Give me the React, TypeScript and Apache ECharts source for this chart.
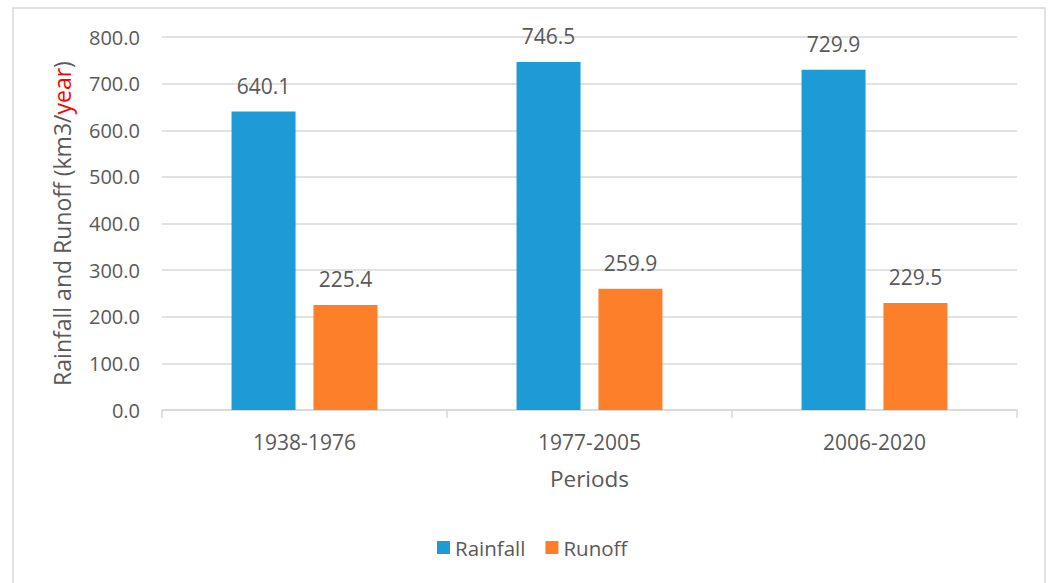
import React, { useEffect, useRef } from "react";
import * as echarts from "echarts";

const periods = ["1938-1976", "1977-2005", "2006-2020"];
const rainfall = [640.1, 746.5, 729.9];
const runoff = [225.4, 259.9, 229.5];
const yTicks = { min: 0, max: 800, interval: 100 };

const FONT = "'Open Sans', sans-serif";
const GREY = "#595959";

export default function App() {
  const ref = useRef<HTMLDivElement>(null);
  useEffect(() => {
    if (!ref.current) return;
    const chart = echarts.init(ref.current, undefined, { renderer: "svg" });
    const label = {
      show: true,
      position: "top",
      distance: 15,
      color: GREY,
      fontSize: 21,
      fontFamily: FONT,
      formatter: (p: any) => Number(p.value).toFixed(1),
    };
    chart.setOption({
      animation: false,
      backgroundColor: "#ffffff",
      textStyle: { fontFamily: FONT },
      graphic: [
        {
          type: "rect",
          shape: { x: 13, y: 8, width: 1032, height: 600 },
          style: { fill: "none", stroke: "#d9d9d9", lineWidth: 1.5 },
          silent: true,
        },
      ],
      grid: { left: 162, right: 34, top: 37, bottom: 173, containLabel: false },
      legend: {
        bottom: 20,
        left: 432,
        itemWidth: 13,
        itemHeight: 13,
        itemGap: 20,
        icon: "rect",
        textStyle: { color: GREY, fontSize: 20.5, fontFamily: FONT },
        data: ["Rainfall", "Runoff"],
      },
      xAxis: {
        type: "category",
        data: periods,
        name: "Periods",
        nameLocation: "middle",
        nameGap: 57,
        nameTextStyle: { color: GREY, fontSize: 22.5, fontFamily: FONT },
        axisLine: { lineStyle: { color: "#d9d9d9", width: 1.5 } },
        axisTick: { show: true, alignWithLabel: false, length: 8, lineStyle: { color: "#d9d9d9", width: 1.5 } },
        axisLabel: { color: GREY, fontSize: 21, margin: 21, fontFamily: FONT },
      },
      yAxis: {
        type: "value",
        min: yTicks.min,
        max: yTicks.max,
        interval: yTicks.interval,
        name: "{a|Rainfall and Runoff (km3/}{b|year}{a|)}",
        nameLocation: "middle",
        nameGap: 89,
        nameTextStyle: {
          fontSize: 23,
          fontFamily: FONT,
          rich: {
            a: { color: GREY, fontSize: 23, fontFamily: FONT },
            b: { color: "#ff0000", fontSize: 23, fontFamily: FONT },
          },
        },
        axisLine: { show: false },
        axisTick: { show: false },
        splitLine: { lineStyle: { color: "#d9d9d9", width: 1.5 } },
        axisLabel: {
          color: GREY,
          fontSize: 20,
          margin: 22,
          fontFamily: FONT,
          formatter: (v: number) => v.toFixed(1),
        },
      },
      series: [
        {
          name: "Rainfall",
          type: "bar",
          data: rainfall,
          barWidth: 64,
          barGap: "28%",
          itemStyle: { color: "#1c9bd7" },
          label,
        },
        {
          name: "Runoff",
          type: "bar",
          data: runoff,
          barWidth: 64,
          itemStyle: { color: "#fe7f2a" },
          label,
        },
      ],
    });
    return () => chart.dispose();
  }, []);
  return (
    <div
      ref={ref}
      style={{ position: "fixed", left: 0, top: 0, width: 1051, height: 583, background: "#fff" }}
    />
  );
}
